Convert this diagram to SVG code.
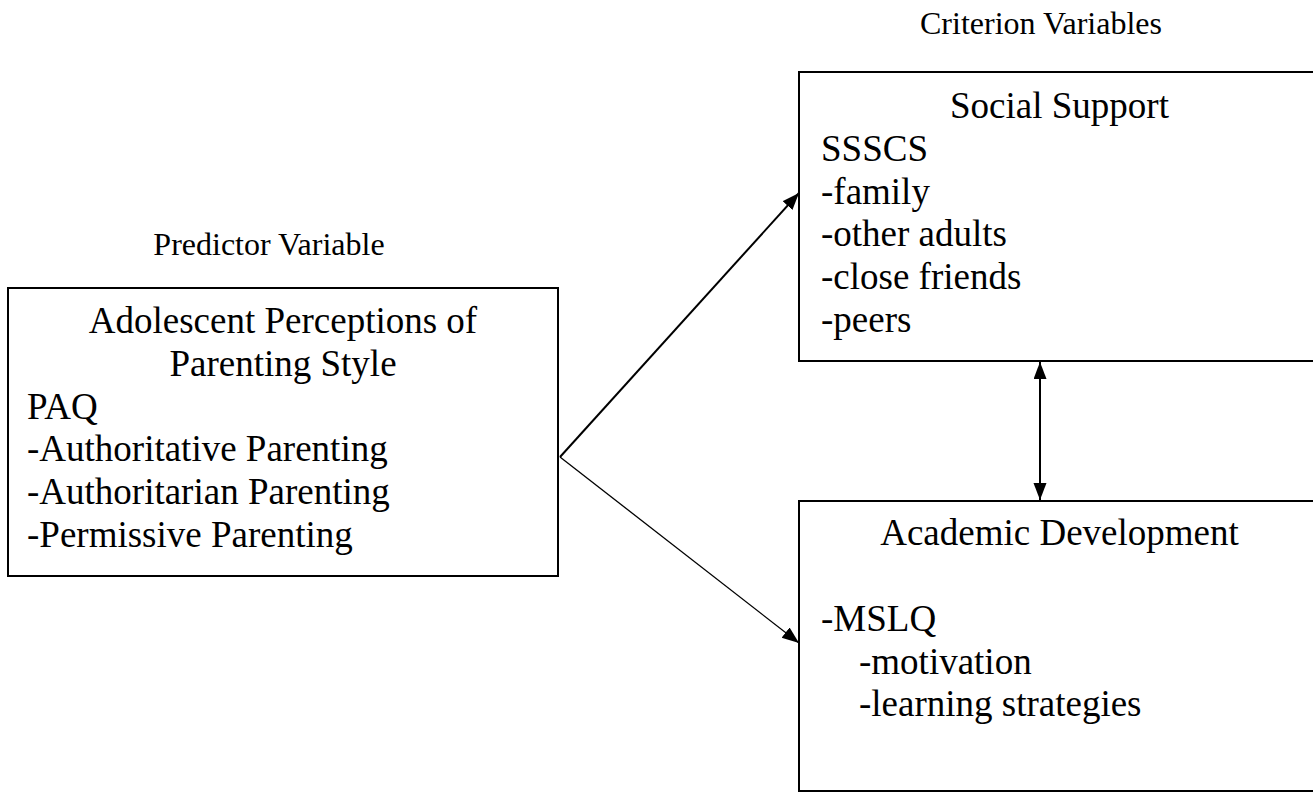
<svg xmlns="http://www.w3.org/2000/svg" width="1313" height="792" viewBox="0 0 1313 792">
<style>
.box{fill:#fff;stroke:#000;stroke-width:2}
.t{font-family:"Liberation Serif","Times New Roman",serif;font-size:37px;fill:#000}
.s{font-family:"Liberation Serif","Times New Roman",serif;font-size:32px;fill:#000}
.c{text-anchor:middle}
.ln{stroke:#000;fill:none}
</style>
<defs>
<marker id="ah" markerUnits="userSpaceOnUse" markerWidth="18" markerHeight="14" refX="17" refY="6.5" orient="auto-start-reverse">
<path d="M0,0 L17,6.5 L0,13 z" fill="#000"/>
</marker>
</defs>
<text class="s c" x="269" y="255">Predictor Variable</text>
<text class="s c" x="1041" y="34">Criterion Variables</text>
<g id="predictor">
<rect class="box" x="8" y="288" width="550" height="288"/>
<text class="t c" x="283" y="333">Adolescent Perceptions of</text>
<text class="t c" x="283" y="375.8">Parenting Style</text>
<text class="t" x="27" y="418.6">PAQ</text>
<text class="t" x="27" y="461.4">-Authoritative Parenting</text>
<text class="t" x="27" y="504.2">-Authoritarian Parenting</text>
<text class="t" x="27" y="547">-Permissive Parenting</text>
</g>
<g id="social">
<rect class="box" x="799" y="72" width="521" height="289"/>
<text class="t c" x="1059.5" y="118">Social Support</text>
<text class="t" x="821" y="160.8">SSSCS</text>
<text class="t" x="821" y="203.6">-family</text>
<text class="t" x="821" y="246.4">-other adults</text>
<text class="t" x="821" y="289.2">-close friends</text>
<text class="t" x="821" y="332">-peers</text>
</g>
<g id="academic">
<rect class="box" x="799" y="501" width="521" height="290"/>
<text class="t c" x="1059.5" y="545">Academic Development</text>
<text class="t" x="821" y="631">-MSLQ</text>
<text class="t" x="859" y="673.5">-motivation</text>
<text class="t" x="859" y="716">-learning strategies</text>
</g>
<g id="connectors">
<line class="ln" x1="560" y1="457" x2="799" y2="193" stroke-width="2" marker-end="url(#ah)"/>
<line class="ln" x1="560" y1="457" x2="799" y2="643" stroke-width="1.3" marker-end="url(#ah)"/>
<line class="ln" x1="1040" y1="362" x2="1040" y2="500" stroke-width="2" marker-start="url(#ah)" marker-end="url(#ah)"/>
</g>
</svg>
